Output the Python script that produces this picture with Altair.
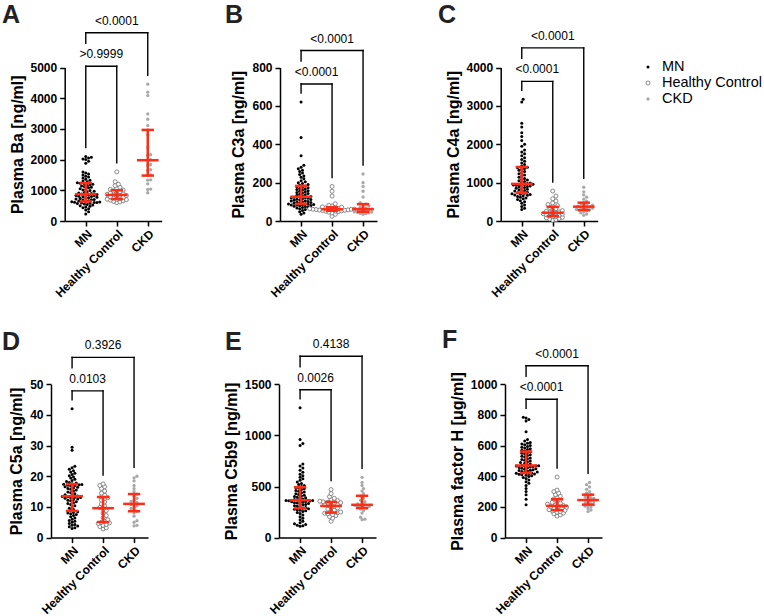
import numpy as np
import pandas as pd
import altair as alt

# ---------------------------------------------------------------- data
groups = ["MN", "Healthy Control", "CKD"]

# A: Plasma Ba [ng/ml]
ba_mn = [230, 300, 360, 400, 430, 460, 480, 500, 520, 540, 555, 570, 580, 590, 600, 605, 610, 620, 630,
         640, 650, 660, 680, 690, 700, 720, 730, 750, 760, 770, 790, 800, 810, 820, 830, 845, 855, 865,
         880, 895, 910, 930, 950, 970, 990, 1010, 1030, 1050, 1080, 1100, 1120, 1140, 1160, 1180, 1200, 1215, 1230,
         1250, 1280, 1300, 1330, 1360, 1400, 1430, 1460, 1500, 1530, 1560, 1600, 1880, 1950, 2000, 2020, 2050, 2080, 2100]
ba_hc = [600, 620, 640, 660, 680, 695, 705, 712, 730, 750, 770, 790, 810, 830, 845,
         855, 870, 890, 910, 930, 950, 980, 1010, 1030, 1060, 1100, 1150, 1200, 1280, 1600]
ba_ckd = [920, 1030, 1040, 1210, 1330, 1340, 1480, 1500, 1650, 1670, 1820, 1840, 1980,
          2000, 2140, 2160, 2400, 2804, 2967, 3108, 3315, 3488, 4086, 4195, 4456]
ba_p = [">0.9999", "<0.0001"]

# B: Plasma C3a [ng/ml]
c3a_mn = [35, 42, 48, 55, 60, 64, 68, 70, 72, 75, 77, 79, 81, 83, 84, 85, 86, 87, 88,
          90, 92, 94, 96, 98, 100, 102, 104, 106, 108, 110, 112, 114, 116, 118, 120, 122, 124, 125,
          128, 131, 134, 137, 140, 143, 146, 149, 152, 155, 158, 161, 164, 167, 170, 173, 176, 179, 182,
          186, 190, 195, 200, 205, 210, 220, 228, 235, 242, 250, 258, 265, 272, 280, 290, 340, 435, 620]
c3a_hc = [25, 35, 42, 46, 49, 51, 52, 53, 55, 56, 57, 58, 59, 60, 61,
          61, 62, 63, 64, 66, 68, 70, 72, 74, 78, 82, 90, 130, 155, 180]
c3a_ckd = [35, 38, 40, 43, 45, 47, 48, 50, 53, 56, 58, 60, 62,
           65, 68, 72, 78, 84, 88, 95, 125, 155, 180, 200, 245]
c3a_p = ["<0.0001", "<0.0001"]

# C: Plasma C4a [ng/ml]
c4a_mn = [300, 330, 380, 420, 460, 500, 530, 560, 580, 600, 620, 640, 655, 670, 680, 690, 700, 710, 720,
          735, 750, 765, 780, 795, 810, 825, 840, 855, 870, 885, 900, 910, 920, 930, 940, 950, 955, 960,
          975, 990, 1010, 1030, 1050, 1070, 1090, 1110, 1140, 1170, 1200, 1230, 1260, 1290, 1320, 1350, 1370, 1390, 1400,
          1430, 1470, 1510, 1560, 1600, 1650, 1700, 1750, 1800, 1850, 1950, 2000, 2100, 2200, 2300, 2450, 2550, 3100, 3170]
c4a_hc = [20, 35, 50, 65, 80, 95, 110, 125, 135, 150, 165, 180, 190, 200, 210,
          222, 235, 250, 270, 290, 320, 350, 375, 400, 430, 470, 520, 580, 650, 780]
c4a_ckd = [150, 180, 210, 240, 260, 275, 287, 300, 315, 330, 345, 360, 374,
           385, 400, 415, 435, 455, 478, 520, 570, 620, 680, 760, 880]
c4a_p = ["<0.0001", "<0.0001"]

# D: Plasma C5a [ng/ml]
c5a_mn = [3.0, 3.2, 3.5, 3.8, 4.0, 4.3, 4.6, 5.0, 5.3, 5.6, 6.0, 6.4, 6.8, 7.2, 7.5, 7.8, 8.0, 8.2, 8.4,
          8.8, 9.2, 9.6, 10.0, 10.4, 10.8, 11.1, 11.4, 11.7, 12.0, 12.2, 12.4, 12.6, 12.8, 13.0, 13.1, 13.2, 13.3, 13.4,
          13.6, 13.8, 14.0, 14.3, 14.6, 14.9, 15.2, 15.5, 15.8, 16.0, 16.2, 16.4, 16.6, 16.8, 17.0, 17.1, 17.2, 17.3, 17.4,
          17.6, 17.8, 18.0, 18.3, 18.6, 19.0, 19.4, 19.8, 20.2, 20.6, 21.0, 21.4, 21.8, 22.3, 22.8, 23.3, 28.5, 29.5, 42.0]
c5a_hc = [2.8, 3.2, 3.6, 4.0, 4.3, 4.6, 4.8, 5.0, 5.3, 5.8, 6.5, 7.2, 8.0, 8.8, 9.4,
          9.8, 10.4, 11.0, 11.6, 12.2, 12.7, 13.0, 13.3, 13.8, 14.5, 15.2, 16.0, 16.6, 17.0, 17.5]
c5a_ckd = [3.8, 4.0, 5.0, 5.5, 7.0, 8.0, 8.6, 9.0, 9.5, 10.0, 10.3, 10.7, 11.0,
           11.4, 11.8, 12.2, 12.8, 13.5, 14.2, 15.0, 16.0, 17.0, 18.5, 19.5, 20.0]
c5a_p = ["0.0103", "0.3926"]

# E: Plasma C5b9 [ng/ml]
c5b9_mn = [110, 115, 120, 128, 135, 145, 160, 175, 190, 205, 220, 235, 245, 255, 262, 268, 273, 278, 282,
           288, 294, 300, 306, 312, 318, 323, 328, 333, 338, 342, 346, 350, 353, 356, 358, 360, 362, 363,
           368, 373, 378, 384, 390, 396, 402, 408, 415, 422, 430, 438, 446, 454, 462, 470, 478, 485, 491,
           500, 510, 520, 530, 545, 560, 575, 590, 605, 620, 640, 660, 680, 700, 720, 900, 920, 960, 1270]
c5b9_hc = [160, 190, 205, 215, 225, 232, 238, 242, 250, 260, 270, 280, 290, 300, 306,
           314, 320, 326, 332, 338, 342, 346, 350, 356, 362, 372, 385, 400, 430, 470]
c5b9_ckd = [175, 180, 200, 240, 265, 280, 289, 295, 300, 305, 310, 315, 321,
            330, 340, 352, 365, 385, 409, 430, 455, 480, 510, 540, 590]
c5b9_p = ["0.0026", "0.4138"]

# F: Plasma factor H [µg/ml]
fh_mn = [215, 250, 280, 300, 320, 340, 355, 365, 375, 385, 392, 398, 403, 407, 410, 413, 415, 417, 419,
         422, 425, 428, 431, 434, 437, 440, 443, 446, 449, 452, 455, 458, 461, 463, 465, 467, 468, 469,
         472, 476, 480, 485, 490, 495, 500, 505, 510, 515, 520, 525, 530, 535, 540, 545, 550, 555, 560,
         565, 570, 575, 580, 585, 590, 595, 600, 605, 610, 615, 620, 630, 640, 690, 760, 770, 780, 785]
fh_hc = [140, 148, 155, 160, 165, 170, 174, 178, 182, 186, 190, 194, 198, 202, 205,
         209, 213, 218, 224, 230, 238, 246, 252, 260, 270, 280, 290, 300, 310, 395]
fh_ckd = [170, 180, 190, 200, 205, 210, 215, 220, 225, 230, 235, 240, 245,
          250, 255, 260, 265, 272, 280, 290, 300, 315, 330, 345, 360]
fh_p = ["<0.0001", "<0.0001"]

# ---------------------------------------------------------------- layout / style
FONT = "Liberation Sans"
RED = "#ff2d16"
XDOM = [-0.68, 2.45]
PLOT_W = 97.0
W, H = 764, 616

panels = [
    dict(letter="A", title="Plasma Ba [ng/ml]", ymax=5000, ystep=1000,
         vals=(ba_mn, ba_hc, ba_ckd), p=ba_p, x0=64.7, ytop=67.5, ybot=221.0, lx=2, ly=23),
    dict(letter="B", title="Plasma C3a [ng/ml]", ymax=800, ystep=200,
         vals=(c3a_mn, c3a_hc, c3a_ckd), p=c3a_p, x0=280.0, ytop=67.5, ybot=221.0, lx=225, ly=23),
    dict(letter="C", title="Plasma C4a [ng/ml]", ymax=4000, ystep=1000,
         vals=(c4a_mn, c4a_hc, c4a_ckd), p=c4a_p, x0=500.7, ytop=67.5, ybot=221.0, lx=438, ly=23),
    dict(letter="D", title="Plasma C5a [ng/ml]", ymax=50, ystep=10,
         vals=(c5a_mn, c5a_hc, c5a_ckd), p=c5a_p, x0=51.0, ytop=384.3, ybot=537.6, lx=2, ly=350),
    dict(letter="E", title="Plasma C5b9 [ng/ml]", ymax=1500, ystep=500,
         vals=(c5b9_mn, c5b9_hc, c5b9_ckd), p=c5b9_p, x0=279.0, ytop=384.3, ybot=537.6, lx=225, ly=350),
    dict(letter="F", title="Plasma factor H [μg/ml]", ymax=1000, ystep=200,
         vals=(fh_mn, fh_hc, fh_ckd), p=fh_p, x0=505.0, ytop=384.3, ybot=537.6, lx=442, ly=348),
]

# spacing (px) between dot centres in each group's swarm; dots may overlap a little
DOT_D = [2.8, 3.2, 2.9]


def swarm(vals, k, d):
    """Horizontal offsets (px) that keep dot centres at least d apart."""
    py = np.asarray(vals, float) * k
    order = np.argsort(py)
    cand = [0.0]
    for j in range(1, 80):
        cand += [j * d * 0.5, -j * d * 0.5]
    px_done, py_done = [], []
    off = np.zeros(len(py))
    for i in order:
        for c in cand:
            if all((a - c) ** 2 + (b - py[i]) ** 2 >= d * d * 0.98
                   for a, b in zip(px_done, py_done)):
                break
        off[i] = c
        px_done.append(c)
        py_done.append(py[i])
    return off


def build_panel(s):
    x0, yt, yb, ymax = s["x0"], s["ytop"], s["ybot"], s["ymax"]
    k = (yb - yt) / ymax                      # px per data unit
    xk = PLOT_W / (XDOM[1] - XDOM[0])         # px per group step

    xs = alt.Scale(domain=XDOM, range=[x0, x0 + PLOT_W], nice=False, zero=False)
    ys = alt.Scale(domain=[0, ymax], range=[yb, yt], nice=False, zero=False)
    label_expr = "[" + ",".join("'%s'" % g for g in groups) + "][datum.value]"
    xaxis = alt.Axis(orient="bottom", offset=yb - H, values=[0, 1, 2], labelExpr=label_expr,
                     labelAngle=-45, labelFont=FONT, labelFontSize=12, labelFontWeight="bold",
                     labelColor="black", labelPadding=2, labelOverlap=False, labelFlush=False,
                     labelBound=False, tickSize=5, tickWidth=1.5, tickColor="black",
                     domainColor="black", domainWidth=1.5, grid=False, title=None)
    yaxis = alt.Axis(orient="left", offset=-x0, values=list(range(0, ymax + 1, s["ystep"])),
                     format="d", labelFont=FONT, labelFontSize=12, labelFontWeight="bold",
                     labelColor="black", labelPadding=3, labelOverlap=False, tickSize=5,
                     tickWidth=1.5, tickColor="black", domainColor="black", domainWidth=1.5,
                     grid=False, title=s["title"], titleFont=FONT, titleFontSize=16,
                     titleFontWeight="bold", titleColor="black", titlePadding=5)

    def X(f="x"):
        return alt.X(f"{f}:Q", scale=xs, axis=xaxis)

    def Y(f="y"):
        return alt.Y(f"{f}:Q", scale=ys, axis=yaxis)

    # dots
    rows = []
    for g, vals in enumerate(s["vals"]):
        off = swarm(vals, k, DOT_D[g])
        for v, o in zip(vals, off):
            rows.append({"g": g, "x": g + o / xk, "y": v})
    pts = pd.DataFrame(rows)

    # median with interquartile range
    segs = []
    for g, vals in enumerate(s["vals"]):
        q1, med, q3 = np.percentile(vals, [25, 50, 75])
        segs.append({"x": g - 0.35, "x2": g + 0.35, "y": med, "y2": med})
        segs.append({"x": g - 0.2, "x2": g + 0.2, "y": q1, "y2": q1})
        segs.append({"x": g - 0.2, "x2": g + 0.2, "y": q3, "y2": q3})
        segs.append({"x": g, "x2": g, "y": q1, "y2": q3})
    iqr = pd.DataFrame(segs)

    # comparison brackets (MN vs Healthy Control, MN vs CKD)
    gmax = max(max(v) for v in s["vals"])
    top1 = gmax + 18 / k
    top2 = top1 + 33.5 / k
    mx = [max(v) for v in s["vals"]]
    br = pd.DataFrame([
        {"x": 0, "x2": 1, "y": top1, "y2": top1},
        {"x": 0, "x2": 0, "y": top1, "y2": mx[0] + 9 / k},
        {"x": 1, "x2": 1, "y": top1, "y2": mx[1] + 9 / k},
        {"x": 0, "x2": 2, "y": top2, "y2": top2},
        {"x": 0, "x2": 0, "y": top2, "y2": top2 - 10.5 / k},
        {"x": 2, "x2": 2, "y": top2, "y2": mx[2] + 9 / k},
    ])
    ptxt = pd.DataFrame([
        {"x": 0.5, "y": top1, "label": s["p"][0]},
        {"x": 1.0, "y": top2, "label": s["p"][1]},
    ])

    base = alt.Chart(pts)
    mn = base.transform_filter("datum.g == 0").mark_circle(
        size=9, color="black", opacity=1).encode(x=X(), y=Y())
    hc = base.transform_filter("datum.g == 1").mark_point(
        shape="circle", size=16, filled=True, fill="white", stroke="#6f6f6f",
        strokeWidth=0.8, opacity=1).encode(x=X(), y=Y())
    ckd = base.transform_filter("datum.g == 2").mark_circle(
        size=11, color="#a9a9a9", opacity=1).encode(x=X(), y=Y())
    bars = alt.Chart(iqr).mark_rule(color=RED, strokeWidth=2.5).encode(
        x=X(), x2="x2:Q", y=Y(), y2="y2:Q")
    brackets = alt.Chart(br).mark_rule(color="black", strokeWidth=1.4, strokeCap="square").encode(
        x=X(), x2="x2:Q", y=Y(), y2="y2:Q")
    texts = alt.Chart(ptxt).mark_text(font=FONT, fontSize=12, color="black", align="center",
                                      baseline="alphabetic", dy=-8).encode(
        x=X(), y=Y(), text="label:N")
    letter = alt.Chart(pd.DataFrame({"t": [s["letter"]]})).mark_text(
        font=FONT, fontSize=25, fontWeight="bold", color="#222222", align="left",
        baseline="alphabetic").encode(x=alt.value(s["lx"]), y=alt.value(s["ly"]), text="t:N")
    return alt.layer(mn, hc, ckd, bars, brackets, texts), letter


layers = []
letters = []
for s in panels:
    p, l = build_panel(s)
    layers.append(p)
    letters.append(l)

# legend
legend_layers = []
icon_marks = [
    dict(kind="circle", size=9, color="black"),
    dict(kind="point", size=16),
    dict(kind="circle", size=11, color="#a9a9a9"),
]
for i, g in enumerate(groups):
    ly = 67 + 16 * i
    d = pd.DataFrame({"t": [g]})
    im = icon_marks[i]
    if im["kind"] == "circle":
        icon = alt.Chart(d).mark_circle(size=im["size"], color=im["color"], opacity=1)
    else:
        icon = alt.Chart(d).mark_point(shape="circle", size=im["size"], filled=True, fill="white",
                                       stroke="#6f6f6f", strokeWidth=0.8, opacity=1)
    icon = icon.encode(x=alt.value(648), y=alt.value(ly))
    lab = alt.Chart(d).mark_text(font=FONT, fontSize=14.5, color="black", align="left",
                                 baseline="middle").encode(
        x=alt.value(662), y=alt.value(ly), text="t:N")
    legend_layers += [icon, lab]

chart = alt.layer(*layers, *letters, *legend_layers).resolve_scale(
    x="independent", y="independent"
).properties(
    width=W, height=H, padding=0, autosize=alt.AutoSizeParams(type="none")
).configure_view(stroke=None)

chart.save("out.html", embed_options={"renderer": "svg", "actions": False})
